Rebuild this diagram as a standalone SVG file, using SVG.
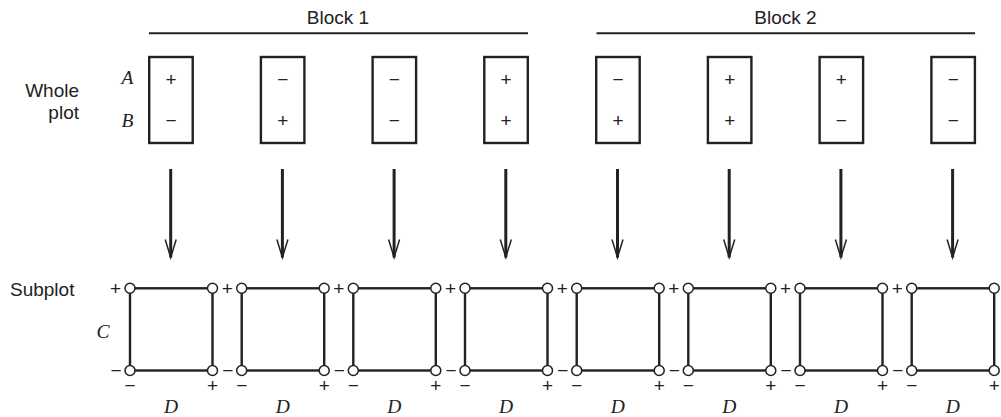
<svg xmlns="http://www.w3.org/2000/svg" width="1001" height="417" viewBox="0 0 1001 417">
<defs>
<style>
.sans{font-family:"Liberation Sans",Arial,sans-serif;fill:#222}
.lbl{font-size:19px}
.pm{font-size:19px;text-anchor:middle}
.it{font-family:"Liberation Serif","Times New Roman",serif;font-style:italic;font-size:19.5px;fill:#222;text-anchor:middle}
.box{fill:#fff;stroke:#222;stroke-width:2.4}
.sq{stroke:#222;stroke-width:2.4;fill:none}
.dot{fill:#fff;stroke:#222;stroke-width:1.5}
.blk{stroke:#222;stroke-width:2}
.arr{stroke:#222;stroke-width:3}
</style>
<marker id="ah" markerUnits="userSpaceOnUse" markerWidth="22" markerHeight="14" refX="20" refY="7" orient="auto" viewBox="0 0 22 14">
<path d="M2,1.5 L20,7 L2,12.5" fill="none" stroke="#222" stroke-width="1.5"/>
</marker>
</defs>
<rect width="1001" height="417" fill="#fff"/>

<g id="labels">
<text class="sans lbl" x="338" y="23.5" text-anchor="middle">Block 1</text>
<text class="sans lbl" x="785.5" y="23.5" text-anchor="middle">Block 2</text>
<text class="sans lbl" x="79" y="96.5" text-anchor="end">Whole</text>
<text class="sans lbl" x="79" y="118.5" text-anchor="end">plot</text>
<text class="sans lbl" x="10" y="295.5">Subplot</text>
<text class="it" x="127.5" y="84">A</text>
<text class="it" x="127.5" y="127">B</text>
<text class="it" x="103" y="337.5">C</text>
</g>

<g id="blocks">
<line class="blk" x1="149" y1="33.3" x2="528" y2="33.3"/>
<line class="blk" x1="596.5" y1="33.3" x2="975" y2="33.3"/>
</g>

<g id="whole-plots">
<g id="wp1"><rect class="box" x="149.2" y="57" width="43.5" height="86"/><text class="sans pm" x="171" y="85.5">+</text><text class="sans pm" x="171" y="127">−</text></g>
<g id="wp2"><rect class="box" x="260.9" y="57" width="43.5" height="86"/><text class="sans pm" x="282.7" y="85.5">−</text><text class="sans pm" x="282.7" y="127">+</text></g>
<g id="wp3"><rect class="box" x="372.6" y="57" width="43.5" height="86"/><text class="sans pm" x="394.4" y="85.5">−</text><text class="sans pm" x="394.4" y="127">−</text></g>
<g id="wp4"><rect class="box" x="484.3" y="57" width="43.5" height="86"/><text class="sans pm" x="506.1" y="85.5">+</text><text class="sans pm" x="506.1" y="127">+</text></g>
<g id="wp5"><rect class="box" x="596.2" y="57" width="43.5" height="86"/><text class="sans pm" x="618" y="85.5">−</text><text class="sans pm" x="618" y="127">+</text></g>
<g id="wp6"><rect class="box" x="707.9" y="57" width="43.5" height="86"/><text class="sans pm" x="729.7" y="85.5">+</text><text class="sans pm" x="729.7" y="127">+</text></g>
<g id="wp7"><rect class="box" x="819.6" y="57" width="43.5" height="86"/><text class="sans pm" x="841.4" y="85.5">+</text><text class="sans pm" x="841.4" y="127">−</text></g>
<g id="wp8"><rect class="box" x="931.4" y="57" width="43.5" height="86"/><text class="sans pm" x="953.2" y="85.5">−</text><text class="sans pm" x="953.2" y="127">−</text></g>
</g>

<g id="connectors">
<line class="arr" x1="170.7" y1="169" x2="170.7" y2="257.5" marker-end="url(#ah)"/>
<line class="arr" x1="282.4" y1="169" x2="282.4" y2="257.5" marker-end="url(#ah)"/>
<line class="arr" x1="394.1" y1="169" x2="394.1" y2="257.5" marker-end="url(#ah)"/>
<line class="arr" x1="505.8" y1="169" x2="505.8" y2="257.5" marker-end="url(#ah)"/>
<line class="arr" x1="617.5" y1="169" x2="617.5" y2="257.5" marker-end="url(#ah)"/>
<line class="arr" x1="729.2" y1="169" x2="729.2" y2="257.5" marker-end="url(#ah)"/>
<line class="arr" x1="840.9" y1="169" x2="840.9" y2="257.5" marker-end="url(#ah)"/>
<line class="arr" x1="952.6" y1="169" x2="952.6" y2="257.5" marker-end="url(#ah)"/>
</g>

<g id="subplots">
<g id="sp1" transform="translate(130,0)">
<rect class="sq" x="0" y="288.3" width="82.5" height="82.2"/>
<circle class="dot" cx="0" cy="288.3" r="5"/><circle class="dot" cx="82.5" cy="288.3" r="5"/><circle class="dot" cx="0" cy="370.5" r="5"/><circle class="dot" cx="82.5" cy="370.5" r="5"/>
<text class="sans pm" x="-14.5" y="294.5">+</text><text class="sans pm" x="-14" y="377">−</text><text class="sans pm" x="0" y="391.5">−</text><text class="sans pm" x="82.5" y="391.5">+</text>
<text class="it" x="41" y="413">D</text>
</g>
<g id="sp2" transform="translate(241.7,0)">
<rect class="sq" x="0" y="288.3" width="82.5" height="82.2"/>
<circle class="dot" cx="0" cy="288.3" r="5"/><circle class="dot" cx="82.5" cy="288.3" r="5"/><circle class="dot" cx="0" cy="370.5" r="5"/><circle class="dot" cx="82.5" cy="370.5" r="5"/>
<text class="sans pm" x="-14.5" y="294.5">+</text><text class="sans pm" x="-14" y="377">−</text><text class="sans pm" x="0" y="391.5">−</text><text class="sans pm" x="82.5" y="391.5">+</text>
<text class="it" x="41" y="413">D</text>
</g>
<g id="sp3" transform="translate(353.3,0)">
<rect class="sq" x="0" y="288.3" width="82.5" height="82.2"/>
<circle class="dot" cx="0" cy="288.3" r="5"/><circle class="dot" cx="82.5" cy="288.3" r="5"/><circle class="dot" cx="0" cy="370.5" r="5"/><circle class="dot" cx="82.5" cy="370.5" r="5"/>
<text class="sans pm" x="-14.5" y="294.5">+</text><text class="sans pm" x="-14" y="377">−</text><text class="sans pm" x="0" y="391.5">−</text><text class="sans pm" x="82.5" y="391.5">+</text>
<text class="it" x="41" y="413">D</text>
</g>
<g id="sp4" transform="translate(465,0)">
<rect class="sq" x="0" y="288.3" width="82.5" height="82.2"/>
<circle class="dot" cx="0" cy="288.3" r="5"/><circle class="dot" cx="82.5" cy="288.3" r="5"/><circle class="dot" cx="0" cy="370.5" r="5"/><circle class="dot" cx="82.5" cy="370.5" r="5"/>
<text class="sans pm" x="-14.5" y="294.5">+</text><text class="sans pm" x="-14" y="377">−</text><text class="sans pm" x="0" y="391.5">−</text><text class="sans pm" x="82.5" y="391.5">+</text>
<text class="it" x="41" y="413">D</text>
</g>
<g id="sp5" transform="translate(576.7,0)">
<rect class="sq" x="0" y="288.3" width="82.5" height="82.2"/>
<circle class="dot" cx="0" cy="288.3" r="5"/><circle class="dot" cx="82.5" cy="288.3" r="5"/><circle class="dot" cx="0" cy="370.5" r="5"/><circle class="dot" cx="82.5" cy="370.5" r="5"/>
<text class="sans pm" x="-14.5" y="294.5">+</text><text class="sans pm" x="-14" y="377">−</text><text class="sans pm" x="0" y="391.5">−</text><text class="sans pm" x="82.5" y="391.5">+</text>
<text class="it" x="41" y="413">D</text>
</g>
<g id="sp6" transform="translate(688.3,0)">
<rect class="sq" x="0" y="288.3" width="82.5" height="82.2"/>
<circle class="dot" cx="0" cy="288.3" r="5"/><circle class="dot" cx="82.5" cy="288.3" r="5"/><circle class="dot" cx="0" cy="370.5" r="5"/><circle class="dot" cx="82.5" cy="370.5" r="5"/>
<text class="sans pm" x="-14.5" y="294.5">+</text><text class="sans pm" x="-14" y="377">−</text><text class="sans pm" x="0" y="391.5">−</text><text class="sans pm" x="82.5" y="391.5">+</text>
<text class="it" x="41" y="413">D</text>
</g>
<g id="sp7" transform="translate(800,0)">
<rect class="sq" x="0" y="288.3" width="82.5" height="82.2"/>
<circle class="dot" cx="0" cy="288.3" r="5"/><circle class="dot" cx="82.5" cy="288.3" r="5"/><circle class="dot" cx="0" cy="370.5" r="5"/><circle class="dot" cx="82.5" cy="370.5" r="5"/>
<text class="sans pm" x="-14.5" y="294.5">+</text><text class="sans pm" x="-14" y="377">−</text><text class="sans pm" x="0" y="391.5">−</text><text class="sans pm" x="82.5" y="391.5">+</text>
<text class="it" x="41" y="413">D</text>
</g>
<g id="sp8" transform="translate(911.7,0)">
<rect class="sq" x="0" y="288.3" width="82.5" height="82.2"/>
<circle class="dot" cx="0" cy="288.3" r="5"/><circle class="dot" cx="82.5" cy="288.3" r="5"/><circle class="dot" cx="0" cy="370.5" r="5"/><circle class="dot" cx="82.5" cy="370.5" r="5"/>
<text class="sans pm" x="-14.5" y="294.5">+</text><text class="sans pm" x="-14" y="377">−</text><text class="sans pm" x="0" y="391.5">−</text><text class="sans pm" x="82.5" y="391.5">+</text>
<text class="it" x="41" y="413">D</text>
</g>
</g>
</svg>
